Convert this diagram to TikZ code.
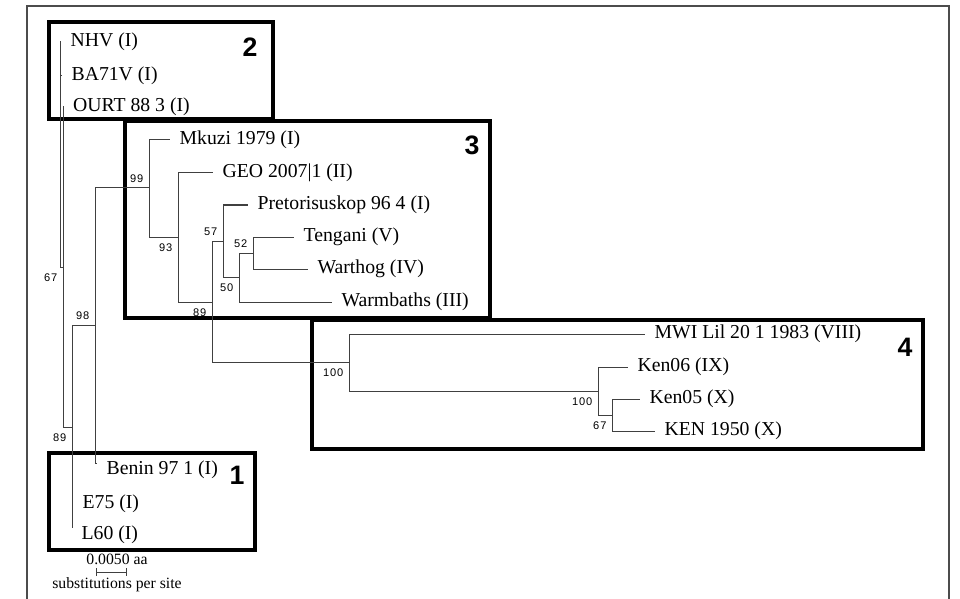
\documentclass[tikz,border=0pt]{standalone}
\usepackage{fontspec}
\setmainfont{Liberation Serif}
\newfontfamily\bootfont[LetterSpace=8]{Liberation Sans}
\newfontfamily\numfont{Liberation Sans}
\usetikzlibrary{positioning}
\usetikzlibrary{arrows.meta}

\tikzset{
  branch/.style={line width=0.75pt, black!75},
  leaf/.style={font=\fontsize{14.8}{17}\selectfont, inner sep=1pt},
  boot/.style={font=\bootfont\fontsize{8.3}{9}\selectfont, inner sep=1pt, text=black},
  cladebox/.style={line width=2.3pt, black},
  boxnum/.style={font=\numfont\bfseries\fontsize{20}{22}\selectfont, inner sep=0pt},
  scaletext/.style={font=\fontsize{11.8}{13}\selectfont, inner sep=0pt},
}

\begin{document}
\begin{tikzpicture}[x=0.75pt, y=-0.75pt, node distance=6pt]
\useasboundingbox (0,0) rectangle (960,599);

% Outer frame, open at the bottom
\draw[line width=1.5pt, black!70] (27,599) -- (27,6) -- (949,6) -- (949,599);

% Clade boxes and their numbers
\draw[cladebox] (49,453) rectangle (255,550);
\draw[cladebox] (49,22) rectangle (273,119);
\draw[cladebox] (125,121) rectangle (490,318);
\draw[cladebox] (312,320) rectangle (923,449);
\node[boxnum] (num1) at (237,475) {1};
\node[boxnum] (num2) at (250,47) {2};
\node[boxnum] (num3) at (472,145) {3};
\node[boxnum] (num4) at (905,347) {4};

% Internal nodes (x = depth, y = middle of the children)
\coordinate (R) at (60,155);
\coordinate (P67) at (63,267);
\coordinate (P89) at (72,427);
\coordinate (P98) at (95,325);
\coordinate (P99) at (149,188);
\coordinate (P93) at (178,237);
\coordinate (Q89) at (212,302);
\coordinate (P57) at (223,241);
\coordinate (P50) at (239,277);
\coordinate (P52) at (253,253);
\coordinate (P100) at (349,362);
\coordinate (Q100) at (598,391);
\coordinate (Q67) at (612,415);

% Branch tips
\coordinate (tNHV) at (61,42);
\coordinate (tBA) at (62,76);
\coordinate (tOURT) at (63.5,107);
\coordinate (tBenin) at (97,463);
\coordinate (tE75) at (73,497);
\coordinate (tL60) at (72,528);
\coordinate (tMkuzi) at (170,140);
\coordinate (tGEO) at (213,173);
\coordinate (tPret) at (248,205);
\coordinate (tTeng) at (294,237);
\coordinate (tWart) at (308,269);
\coordinate (tWarm) at (332,302);
\coordinate (tMWI) at (645,334);
\coordinate (tKen06) at (628,367);
\coordinate (tKen05) at (640,399);
\coordinate (tKEN50) at (655,431);

% Taxon names
\node[leaf, right=of tNHV] (NHV) {NHV (I)};
\node[leaf, right=of tBA] (BA71V) {BA71V (I)};
\node[leaf, right=of tOURT] (OURT) {OURT 88 3 (I)};
\node[leaf, right=of tBenin, yshift=-5pt] (Benin) {Benin 97 1 (I)};
\node[leaf, right=of tE75, yshift=-5pt] (E75) {E75 (I)};
\node[leaf, right=of tL60, yshift=-5pt] (L60) {L60 (I)};
\node[leaf, right=of tMkuzi] (Mkuzi) {Mkuzi 1979 (I)};
\node[leaf, right=of tGEO] (GEO) {GEO 2007|1 (II)};
\node[leaf, right=of tPret] (Pret) {Pretorisuskop 96 4 (I)};
\node[leaf, right=of tTeng] (Teng) {Tengani (V)};
\node[leaf, right=of tWart] (Wart) {Warthog (IV)};
\node[leaf, right=of tWarm] (Warm) {Warmbaths (III)};
\node[leaf, right=of tMWI] (MWI) {MWI Lil 20 1 1983 (VIII)};
\node[leaf, right=of tKen06] (Ken06) {Ken06 (IX)};
\node[leaf, right=of tKen05] (Ken05) {Ken05 (X)};
\node[leaf, right=of tKEN50] (KEN50) {KEN 1950 (X)};

% Branches, basal part
\draw[branch] (R) |- (tNHV);
\draw[branch] (R) |- (tBA);
\draw[branch] (R) |- (P67);
\draw[branch] (P67) |- (tOURT);
\draw[branch] (P67) |- (P89);
\draw[branch] (P89) |- (P98);
\draw[branch] (P89) |- (tE75);
\draw[branch] (P89) |- (tL60);
\draw[branch] (P98) |- (tBenin);
\draw[branch] (P98) |- (P99);

% Branches, clade 3
\draw[branch] (P99) |- (tMkuzi);
\draw[branch] (P99) |- (P93);
\draw[branch] (P93) |- (tGEO);
\draw[branch] (P93) |- (Q89);
\draw[branch] (Q89) |- (P57);
\draw[branch] (Q89) |- (P100);
\draw[branch] (P57) |- (tPret);
\draw[branch] (P57) |- (P50);
\draw[branch] (P50) |- (P52);
\draw[branch] (P50) |- (tWarm);
\draw[branch] (P52) |- (tTeng);
\draw[branch] (P52) |- (tWart);

% Branches, clade 4
\draw[branch] (P100) |- (tMWI);
\draw[branch] (P100) |- (Q100);
\draw[branch] (Q100) |- (tKen06);
\draw[branch] (Q100) |- (Q67);
\draw[branch] (Q67) |- (tKen05);
\draw[branch] (Q67) |- (tKEN50);

% Bootstrap values
\node[boot, below left=4pt and 3pt of P67] (b67) {67};
\node[boot, below left=4pt and 3pt of P89] (b89) {89};
\node[boot, above left=3pt and 3pt of P98] (b98) {98};
\node[boot, above left=3pt and 3pt of P99] (b99) {99};
\node[boot, below left=4pt and 3pt of P93] (b93) {93};
\node[boot, below left=4pt and 3pt of Q89] (c89) {89};
\node[boot, above left=3pt and 3pt of P57] (b57) {57};
\node[boot, below left=4pt and 3pt of P50] (b50) {50};
\node[boot, above left=3pt and 3pt of P52] (b52) {52};
\node[boot, below left=4pt and 3pt of P100] (b100) {100};
\node[boot, below left=4pt and 3pt of Q100] (c100) {100};
\node[boot, below left=4pt and 3pt of Q67] (c67) {67};

% Scale bar
\coordinate (barL) at (96,572);
\coordinate (barR) at (127,572);
\draw[branch, {Bar[width=6pt]}-{Bar[width=6pt]}] (barL) -- (barR);
\node[scaletext] (scaleval) at (117,559) {0.0050 aa};
\node[scaletext] (scaleunit) at (117,585) {substitutions per site};
\end{tikzpicture}
\end{document}
